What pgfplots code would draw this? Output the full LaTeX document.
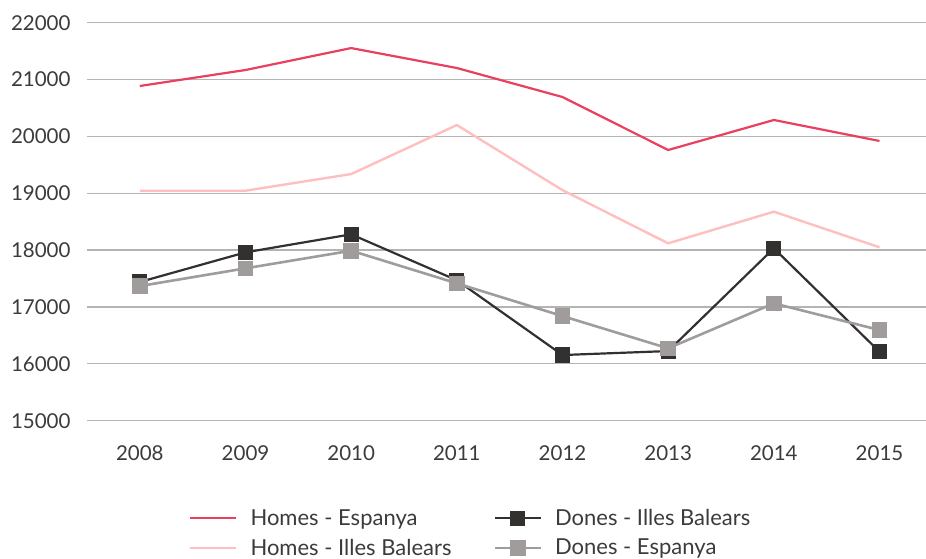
\documentclass[border=0pt]{standalone}
\usepackage{pgfplots}
\pgfplotsset{compat=1.18}
\usepackage{fontspec}
\setmainfont{Lato}
\definecolor{cred}{HTML}{E8405E}
\definecolor{cpink}{HTML}{FFBFC0}
\definecolor{cblack}{HTML}{333030}
\definecolor{cgray}{HTML}{A09C9C}
\definecolor{cgrid}{HTML}{B4B4B4}
\definecolor{ctext}{HTML}{3C3A3A}
\begin{document}
\begin{tikzpicture}
\useasboundingbox (0,0) rectangle (926pt,558pt);
\begin{axis}[
  at={(87pt,137.3pt)}, anchor=south west,
  scale only axis, width=839pt, height=398pt,
  xmin=-0.5, xmax=7.44, ymin=15000, ymax=22000,
  xtick={0,...,7},
  xticklabels={2008,2009,2010,2011,2012,2013,2014,2015},
  ytick={15000,16000,...,22000},
  scaled y ticks=false,
  yticklabel={\pgfmathprintnumber[fixed,precision=0,1000 sep={}]{\tick}},
  /pgf/number format/.cd, 1000 sep={}, assume math mode=true,
  /pgfplots/.cd,
  ymajorgrids, grid style={cgrid, line width=1.3pt},
  axis line style={draw=none},
  major tick length=0pt,
  tick label style={font=\fontsize{20.5}{24}\selectfont, text=ctext},
  yticklabel style={xshift=-13pt},
  xticklabel style={yshift=-21pt},
  clip=false,
  legend columns=2,
  legend cell align=left,
  legend image code/.code={\draw[mark repeat=2,mark phase=2,#1] plot coordinates {(0pt,0pt) (23pt,0pt) (46pt,0pt)};},
  legend style={at={(0.1215,-0.217)}, anchor=north west, draw=none, fill=none,
    inner sep=0pt, font=\fontsize{22}{26}\selectfont, text=ctext,
    row sep=8pt,
    /tikz/every odd column/.append style={column sep=11pt},
    /tikz/every even column/.append style={column sep=40pt}},
]
\addplot[cred, line width=2.2pt] coordinates {(0,20887) (1,21168) (2,21554) (3,21203) (4,20693) (5,19761) (6,20289) (7,19920)};
\addlegendentry{Homes - Espanya}
\addplot[cblack, line width=2.2pt, mark=square*, mark size=6.5pt, mark options={solid}] coordinates {(0,17440) (1,17961) (2,18278) (3,17470) (4,16155) (5,16225) (6,18032) (7,16213)};
\addlegendentry{Dones - Illes Balears}
\addplot[cpink, line width=2.4pt] coordinates {(0,19045) (1,19045) (2,19338) (3,20200) (4,19055) (5,18120) (6,18676) (7,18050)};
\addlegendentry{Homes - Illes Balears}
\addplot[cgray, line width=2.6pt, mark=square*, mark size=6.5pt] coordinates {(0,17368) (1,17680) (2,17990) (3,17416) (4,16840) (5,16273) (6,17064) (7,16595)};
\addlegendentry{Dones - Espanya}
\end{axis}
\end{tikzpicture}
\end{document}
